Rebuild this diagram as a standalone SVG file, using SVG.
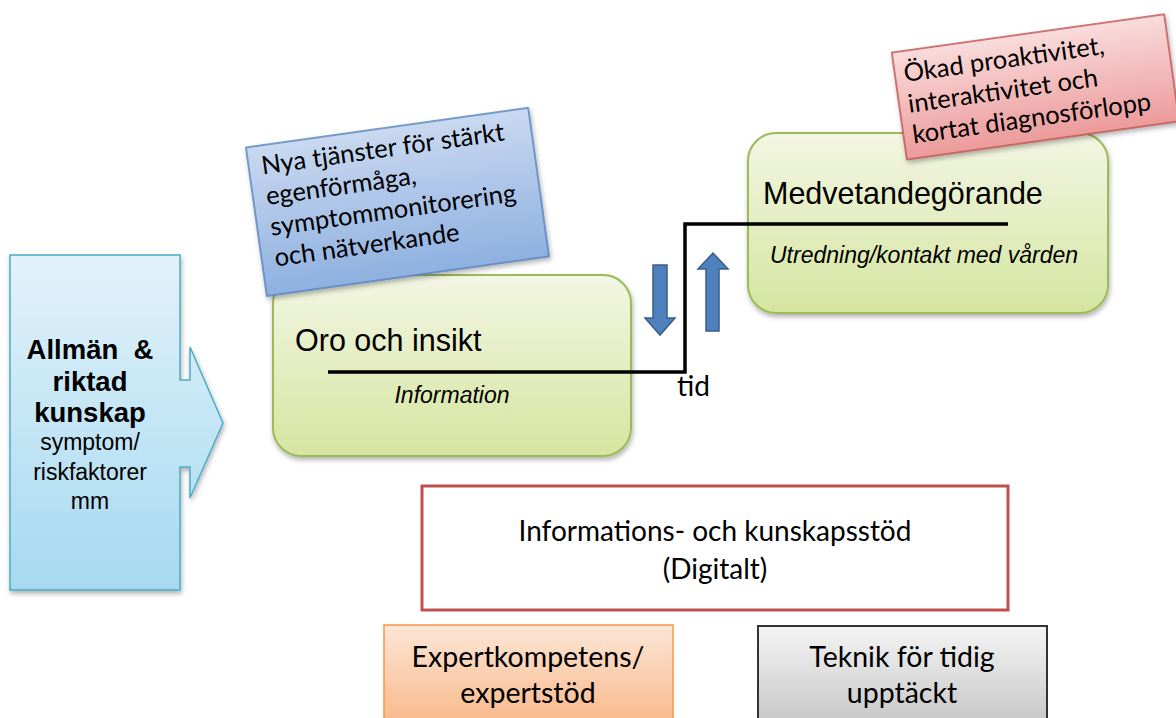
<svg xmlns="http://www.w3.org/2000/svg" width="1176" height="718" viewBox="0 0 1176 718">
<defs>
<linearGradient id="gBlue" x1="0" y1="0" x2="0" y2="1"><stop offset="0" stop-color="#e2f2fa"/><stop offset="1" stop-color="#a6d9f0"/></linearGradient>
<linearGradient id="gGreen" x1="0" y1="0" x2="0" y2="1"><stop offset="0" stop-color="#f3f6e4"/><stop offset="1" stop-color="#d5e59f"/></linearGradient>
<linearGradient id="gCallB" x1="0" y1="0" x2="0" y2="1"><stop offset="0" stop-color="#c9d9f0"/><stop offset="1" stop-color="#8eb0e0"/></linearGradient>
<linearGradient id="gCallR" x1="0" y1="0" x2="0" y2="1"><stop offset="0" stop-color="#f9dcdc"/><stop offset="1" stop-color="#ec9a9a"/></linearGradient>
<linearGradient id="gOrange" x1="0" y1="0" x2="0" y2="1"><stop offset="0" stop-color="#fce6d6"/><stop offset="1" stop-color="#f8b88a"/></linearGradient>
<linearGradient id="gGray" x1="0" y1="0" x2="0" y2="1"><stop offset="0" stop-color="#f4f4f4"/><stop offset="1" stop-color="#c6c6c6"/></linearGradient>
<filter id="sh" x="-10%" y="-10%" width="130%" height="130%"><feDropShadow dx="1" dy="3" stdDeviation="2.5" flood-color="#000" flood-opacity="0.3"/></filter>
</defs>
<style>
.green{fill:url(#gGreen);stroke:#9bbb59;stroke-width:2;filter:url(#sh)}
.arial{font-family:"Liberation Sans",Arial,sans-serif;fill:#000}
.cal{font-family:Lato,"Open Sans",sans-serif;fill:#000}
.blk{stroke:#000;stroke-width:3.5;fill:none}
.barrow{fill:#4f81bd;stroke:#385d8a;stroke-width:1.5}
</style>
<rect width="1176" height="718" fill="#fff"/>

<g id="kunskap">
<polygon points="10,255 180,255 180,380 190,380 190,347 223,423 190,498 190,467 180,467 180,590 10,590" fill="url(#gBlue)" stroke="#4bacc6" stroke-width="1.5" filter="url(#sh)"/>
<text class="arial" text-anchor="middle" font-weight="bold" font-size="27.5"><tspan x="90" y="359">Allmän&#160; &amp;</tspan><tspan x="90" y="391">riktad</tspan><tspan x="90" y="422">kunskap</tspan></text>
<text class="arial" text-anchor="middle" font-size="23"><tspan x="90" y="450">symptom/</tspan><tspan x="90" y="480">riskfaktorer</tspan><tspan x="90" y="509">mm</tspan></text>
</g>

<g id="oro">
<rect class="green" x="273" y="275" width="358" height="181" rx="28"/>
<text class="arial" x="295" y="351" font-size="30.5">Oro och insikt</text>
<text class="arial" x="452" y="403" font-size="23" font-style="italic" text-anchor="middle">Information</text>
</g>

<g id="medvetande">
<rect class="green" x="748" y="133" width="360" height="180" rx="28"/>
<text class="arial" x="763" y="204" font-size="30.5">Medvetandegörande</text>
<text class="arial" x="770" y="263" font-size="23" font-style="italic">Utredning/kontakt med vården</text>
</g>

<g id="connectors">
<polyline class="blk" points="328,372 685,372 685,224 1008,224"/>
<polygon class="barrow" points="653,265 667,265 667,318 675,318 660,335 645,318 653,318"/>
<polygon class="barrow" points="706,331 719,331 719,269 728,269 713,253 698,269 706,269"/>
</g>

<g id="tid">
<text class="cal" x="677" y="396" font-size="28">tid</text>
</g>

<g id="tjanster" transform="translate(397,202) rotate(-8)">
<rect x="-142" y="-75" width="285" height="150" fill="url(#gCallB)" stroke="#4f81bd" stroke-width="1.5" filter="url(#sh)"/>
<text class="cal" font-size="25.5"><tspan x="-129" y="-46">Nya tjänster för stärkt</tspan><tspan x="-129" y="-15">egenförmåga,</tspan><tspan x="-129" y="16">symptommonitorering</tspan><tspan x="-129" y="47">och nätverkande</tspan></text>
</g>

<g id="okad" transform="translate(1035,87) rotate(-8)">
<rect x="-137" y="-54" width="275" height="108" fill="url(#gCallR)" stroke="#c0504d" stroke-width="1.5" filter="url(#sh)"/>
<text class="cal" font-size="25.5"><tspan x="-128" y="-23">Ökad proaktivitet,</tspan><tspan x="-128" y="8">interaktivitet och</tspan><tspan x="-128" y="39">kortat diagnosförlopp</tspan></text>
</g>

<g id="informationsstod">
<rect x="422" y="486" width="586" height="124" fill="#fff" stroke="#c0504d" stroke-width="3"/>
<text class="cal" font-size="28" text-anchor="middle"><tspan x="715" y="541">Informations- och kunskapsstöd</tspan><tspan x="715" y="579">(Digitalt)</tspan></text>
</g>

<g id="expert">
<rect x="384" y="625" width="289" height="100" fill="url(#gOrange)" stroke="#f79646" stroke-width="1.5"/>
<text class="cal" font-size="28.5" text-anchor="middle"><tspan x="528" y="667">Expertkompetens/</tspan><tspan x="528" y="703">expertstöd</tspan></text>
</g>

<g id="teknik">
<rect x="758" y="626" width="289" height="100" fill="url(#gGray)" stroke="#333" stroke-width="2"/>
<text class="cal" font-size="28.5" text-anchor="middle"><tspan x="902" y="667">Teknik för tidig</tspan><tspan x="902" y="703">upptäckt</tspan></text>
</g>
</svg>
